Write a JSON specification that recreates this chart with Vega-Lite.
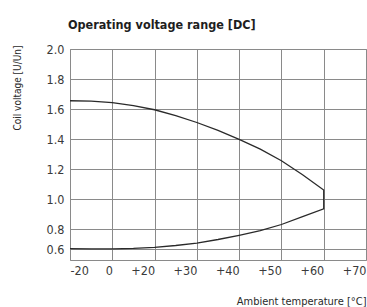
{
  "$schema": "https://vega.github.io/schema/vega-lite/v6.json",
  "width": 296,
  "height": 211,
  "autosize": {"type": "none"},
  "padding": {"left": 70, "top": 49, "right": 1, "bottom": 47},
  "background": "white",
  "config": {
    "view": {"stroke": "#8a8a8a", "strokeWidth": 1},
    "font": "DejaVu Sans Condensed, DejaVu Sans, sans-serif"
  },
  "title": {
    "text": "Operating voltage range [DC]",
    "anchor": "start",
    "frame": "group",
    "offset": 12,
    "dx": -2,
    "fontSize": 12.5,
    "fontWeight": "bold",
    "color": "#1e1e1e",
    "font": "DejaVu Sans Condensed, DejaVu Sans, sans-serif"
  },
  "data": {
    "values": [
      {"temp": 0, "voltage": 1.655, "seq": 1, "curve": "upper"},
      {"temp": 5, "voltage": 1.652, "seq": 2, "curve": "upper"},
      {"temp": 10, "voltage": 1.643, "seq": 3, "curve": "upper"},
      {"temp": 15, "voltage": 1.623, "seq": 4, "curve": "upper"},
      {"temp": 20, "voltage": 1.595, "seq": 5, "curve": "upper"},
      {"temp": 25, "voltage": 1.556, "seq": 6, "curve": "upper"},
      {"temp": 30, "voltage": 1.51, "seq": 7, "curve": "upper"},
      {"temp": 35, "voltage": 1.457, "seq": 8, "curve": "upper"},
      {"temp": 40, "voltage": 1.398, "seq": 9, "curve": "upper"},
      {"temp": 45, "voltage": 1.332, "seq": 10, "curve": "upper"},
      {"temp": 50, "voltage": 1.255, "seq": 11, "curve": "upper"},
      {"temp": 55, "voltage": 1.162, "seq": 12, "curve": "upper"},
      {"temp": 60, "voltage": 1.06, "seq": 13, "curve": "upper"},
      {"temp": 60, "voltage": 0.935, "seq": 14, "curve": "lower"},
      {"temp": 55, "voltage": 0.882, "seq": 15, "curve": "lower"},
      {"temp": 50, "voltage": 0.83, "seq": 16, "curve": "lower"},
      {"temp": 45, "voltage": 0.783, "seq": 17, "curve": "lower"},
      {"temp": 40, "voltage": 0.737, "seq": 18, "curve": "lower"},
      {"temp": 35, "voltage": 0.695, "seq": 19, "curve": "lower"},
      {"temp": 30, "voltage": 0.659, "seq": 20, "curve": "lower"},
      {"temp": 25, "voltage": 0.635, "seq": 21, "curve": "lower"},
      {"temp": 20, "voltage": 0.617, "seq": 22, "curve": "lower"},
      {"temp": 15, "voltage": 0.606, "seq": 23, "curve": "lower"},
      {"temp": 10, "voltage": 0.601, "seq": 24, "curve": "lower"},
      {"temp": 5, "voltage": 0.601, "seq": 25, "curve": "lower"},
      {"temp": 0, "voltage": 0.603, "seq": 26, "curve": "lower"}
    ]
  },
  "mark": {"type": "line", "color": "#2a2a2a", "strokeWidth": 1.3, "interpolate": "linear"},
  "encoding": {
    "order": {"field": "seq", "type": "quantitative"},
    "x": {
      "field": "temp",
      "type": "quantitative",
      "scale": {"domain": [0, 70], "nice": false, "zero": false},
      "axis": {
        "values": [0, 10, 20, 30, 40, 50, 60, 70],
        "labelExpr": "datum.value == 0 ? '-20' : (datum.value == 10 ? '0' : '+' + datum.value)",
        "labelAlign": {"condition": {"test": "datum.value == 0", "value": "left"}, "value": "right"},
        "labelFontSize": 12.5,
        "labelColor": "#3a3a3a",
        "labelPadding": 4,
        "labelFlush": false,
        "ticks": false,
        "domain": false,
        "grid": true,
        "gridColor": "#8a8a8a",
        "gridOpacity": 1,
        "gridWidth": 1,
        "title": "Ambient temperature [°C]",
        "titleFontSize": 11,
        "titleFontWeight": "normal",
        "titleColor": "#2a2a2a",
        "titleX": 296,
        "titleY": 44,
        "titleAlign": "right",
        "titleBaseline": "alphabetic"
      }
    },
    "y": {
      "field": "voltage",
      "type": "quantitative",
      "scale": {"domain": [0.5, 0.6, 0.8, 2.0], "range": [211, 200, 180, 0], "nice": false, "zero": false},
      "axis": {
        "values": [0.6, 0.8, 1.0, 1.2, 1.4, 1.6, 1.8, 2.0],
        "format": ".1f",
        "labelFontSize": 12.5,
        "labelColor": "#3a3a3a",
        "labelPadding": 6,
        "ticks": false,
        "domain": false,
        "grid": true,
        "gridColor": "#8a8a8a",
        "gridOpacity": 1,
        "gridWidth": 1,
        "title": "Coil voltage [U/Un]",
        "titleFontSize": 10,
        "titleFontWeight": "normal",
        "titleColor": "#2a2a2a",
        "titleAngle": -90,
        "titleX": -53,
        "titleY": -4,
        "titleAlign": "right",
        "titleBaseline": "middle"
      }
    }
  }
}
